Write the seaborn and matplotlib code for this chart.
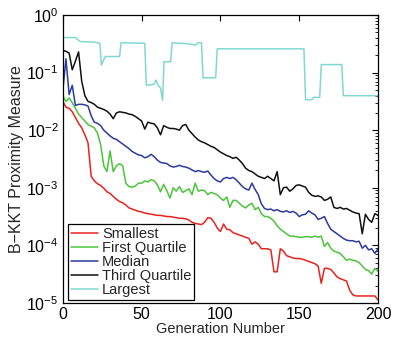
import numpy as np
import pandas as pd
import matplotlib
matplotlib.use("Agg")
import matplotlib.pyplot as plt
from matplotlib.ticker import LogLocator, NullFormatter
import seaborn as sns

# Generations sampled every 2 steps; values stored as log10 of the measure
generations = np.arange(0, 201, 2)

smallest_log10 = [
    -1.50, -1.60, -1.62, -1.68, -1.78, -1.88, -1.96, -2.08, -2.22, -2.80,
    -2.88, -2.93, -2.96, -3.01, -3.07, -3.10, -3.15, -3.20, -3.24, -3.26,
    -3.30, -3.35, -3.37, -3.39, -3.41, -3.42, -3.44, -3.45, -3.46, -3.47,
    -3.48, -3.48, -3.49, -3.50, -3.50, -3.51, -3.52, -3.53, -3.53, -3.54,
    -3.56, -3.60, -3.62, -3.63, -3.64, -3.60, -3.52, -3.53, -3.60, -3.70,
    -3.76, -3.63, -3.72, -3.73, -3.78, -3.80, -3.82, -3.84, -3.86, -3.88,
    -3.98, -3.94, -3.98, -4.06, -4.06, -4.06, -4.08, -4.46, -4.46, -4.06,
    -4.10, -4.18, -4.20, -4.22, -4.23, -4.23, -4.24, -4.26, -4.28, -4.30,
    -4.32, -4.36, -4.66, -4.40, -4.40, -4.42, -4.48, -4.55, -4.58, -4.60,
    -4.62, -4.78, -4.86, -4.88, -4.88, -4.88, -4.88, -4.88, -4.88, -4.88,
    -4.95,
]

first_quartile_log10 = [
    -1.40, -1.50, -1.44, -1.52, -1.62, -1.72, -1.78, -1.84, -1.90, -1.93,
    -1.96, -2.05, -2.25, -2.62, -2.72, -2.36, -2.72, -2.62, -2.58, -2.62,
    -2.92, -2.98, -2.99, -2.97, -2.92, -2.92, -2.88, -2.90, -2.86, -2.88,
    -2.95, -3.07, -2.94, -3.05, -3.18, -3.00, -3.06, -2.98, -3.08, -3.05,
    -3.02, -3.12, -2.92, -3.06, -3.04, -3.05, -3.12, -3.08, -3.10, -3.12,
    -3.18, -3.22, -3.16, -3.34, -3.22, -3.22, -3.27, -3.32, -3.35, -3.30,
    -3.27, -3.38, -3.34, -3.45, -3.50, -3.50, -3.53, -3.58, -3.66, -3.72,
    -3.76, -3.80, -3.84, -3.84, -3.85, -3.86, -3.86, -3.85, -3.85, -3.86,
    -3.84, -3.86, -3.84, -4.02, -3.95, -4.05, -4.10, -4.12, -4.14, -4.20,
    -4.26, -4.24, -4.26, -4.27, -4.30, -4.36, -4.42, -4.44, -4.50, -4.40,
    -4.45,
]

median_log10 = [
    -1.31, -0.76, -1.38, -1.22, -1.57, -1.55, -1.55, -1.56, -1.58, -1.75,
    -1.86, -1.88, -1.92, -2.00, -2.05, -2.10, -2.14, -2.16, -2.20, -2.24,
    -2.28, -2.32, -2.37, -2.40, -2.43, -2.44, -2.48, -2.46, -2.42, -2.46,
    -2.52, -2.56, -2.57, -2.58, -2.62, -2.64, -2.63, -2.61, -2.63, -2.64,
    -2.66, -2.69, -2.72, -2.70, -2.72, -2.73, -2.71, -2.78, -2.84, -2.88,
    -2.90, -2.84, -2.82, -2.84, -2.82, -2.86, -2.92, -2.98, -3.02, -3.04,
    -2.92, -3.03, -3.12, -3.28, -3.36, -3.38, -3.37, -3.40, -3.38, -3.41,
    -3.42, -3.40, -3.43, -3.41, -3.44, -3.50, -3.47, -3.46, -3.40, -3.44,
    -3.47, -3.55, -3.53, -3.50, -3.62, -3.72, -3.76, -3.80, -3.84, -3.88,
    -3.91, -3.92, -3.92, -3.94, -3.93, -4.05, -4.00, -4.08, -4.06, -4.14,
    -4.06,
]

third_quartile_log10 = [
    -0.61, -0.63, -0.66, -0.95, -0.80, -0.64, -1.15, -1.40, -1.50, -1.52,
    -1.55, -1.60, -1.62, -1.64, -1.67, -1.72, -1.80, -1.70, -1.68, -1.69,
    -1.70, -1.72, -1.73, -1.76, -1.80, -1.84, -1.98, -1.86, -1.88, -1.89,
    -1.96, -2.08, -1.92, -1.95, -1.97, -1.97, -1.98, -2.00, -1.92, -1.90,
    -2.00, -2.06, -2.12, -2.17, -2.20, -2.22, -2.25, -2.28, -2.30, -2.34,
    -2.38, -2.41, -2.44, -2.46, -2.49, -2.47, -2.52, -2.58, -2.66, -2.70,
    -2.72, -2.76, -2.80, -2.82, -2.84, -2.80, -2.84, -2.88, -2.72, -3.12,
    -3.00, -2.99, -3.06, -3.02, -2.96, -2.95, -2.97, -2.99, -3.08, -3.13,
    -3.15, -3.14, -3.16, -3.22, -3.20, -3.16, -3.34, -3.36, -3.34, -3.37,
    -3.36, -3.39, -3.42, -3.44, -3.45, -3.80, -3.46, -3.55, -3.60, -3.45,
    -3.48,
]

# The largest value changes in plateaus, so it keeps its own breakpoints
largest_generations = [
    0, 8, 11, 20, 23.5, 24.5, 25.5, 27, 36, 37, 52, 53, 58, 59, 60.5, 62,
    63.3, 64.2, 68.4, 69.4, 80, 84, 86, 88, 89, 97, 98, 153, 154, 158, 159,
    163, 164, 177, 178, 200,
]
largest_log10 = [
    -0.39, -0.39, -0.46, -0.47, -0.49, -0.87, -0.80, -0.72, -0.72, -0.48,
    -0.49, -1.22, -1.20, -1.13, -1.22, -1.27, -1.48, -0.81, -0.81, -0.48,
    -0.50, -0.52, -0.48, -0.48, -1.09, -1.09, -0.586, -0.586, -1.47, -1.47,
    -1.43, -1.43, -0.86, -0.86, -1.40, -1.40,
]

series_names = ["Smallest", "First Quartile", "Median", "Third Quartile", "Largest"]
series_colors = ["#e8231d", "#4cc43c", "#2b3a9c", "#111111", "#80d9d1"]

sns.set_style("white")
plt.rcParams["font.family"] = ["Liberation Sans", "DejaVu Sans"]
plt.rcParams["mathtext.default"] = "regular"

frames = []
for name, gens, logs in zip(
    series_names,
    [generations, generations, generations, generations, largest_generations],
    [smallest_log10, first_quartile_log10, median_log10, third_quartile_log10, largest_log10],
):
    frames.append(pd.DataFrame({
        "Generation": np.asarray(gens, dtype=float),
        "Value": np.power(10.0, np.asarray(logs)),
        "Series": name,
    }))
df = pd.concat(frames, ignore_index=True)

fig = plt.figure(figsize=(3.95, 3.43), dpi=100)
ax = fig.add_axes([0.159, 0.117, 0.798, 0.839])

sns.lineplot(data=df, x="Generation", y="Value", hue="Series",
             hue_order=series_names, palette=series_colors,
             estimator=None, linewidth=1.1, ax=ax)

ax.set_yscale("log")
ax.set_xlim(0, 200)
ax.set_ylim(1e-5, 1e0)
ax.set_xticks([0, 50, 100, 150, 200])
ax.yaxis.set_major_locator(LogLocator(base=10, numticks=10))
ax.yaxis.set_minor_locator(LogLocator(base=10, subs=np.arange(2, 10), numticks=10))
ax.yaxis.set_minor_formatter(NullFormatter())

ax.tick_params(which="both", direction="in", top=True, right=True,
               colors="black", labelsize=11.5)
ax.tick_params(which="major", length=4, width=0.8, pad=3)
ax.tick_params(which="minor", length=2, width=0.6)

for spine in ax.spines.values():
    spine.set_color("black")
    spine.set_linewidth(0.9)

ax.set_xlabel("Generation Number", fontsize=10.5, labelpad=0)
ax.set_ylabel("B\u2212KKT Proximity Measure", fontsize=11.5, labelpad=2)

handles, labels = ax.get_legend_handles_labels()
leg = ax.legend(handles, labels, loc="lower left",
                bbox_to_anchor=(5 / 315, 3 / 288), borderaxespad=0,
                fontsize=10.5, frameon=True, fancybox=False, framealpha=1,
                edgecolor="black", borderpad=0.2, labelspacing=0.0,
                handlelength=1.9, handletextpad=0.25)
leg.get_frame().set_linewidth(0.9)

fig.savefig("out.png", dpi=100)
